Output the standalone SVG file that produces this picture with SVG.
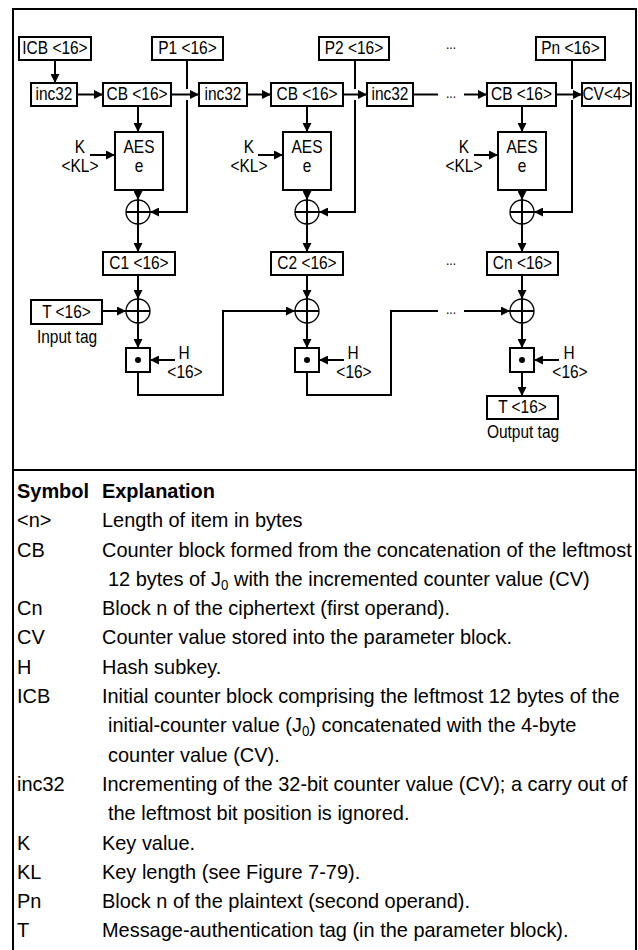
<svg xmlns="http://www.w3.org/2000/svg" width="638" height="950" viewBox="0 0 638 950">
<defs>
<marker id="ah" viewBox="0 0 10 10" refX="10" refY="5" markerWidth="10" markerHeight="9" markerUnits="userSpaceOnUse" orient="auto">
<path d="M0,0 L10,5 L0,10 z" fill="#000"/>
</marker>
</defs>
<style>
.b{fill:#fff;stroke:#000;stroke-width:2}
.l{fill:none;stroke:#000;stroke-width:2}
.a{fill:none;stroke:#000;stroke-width:2;marker-end:url(#ah)}
.x{fill:#fff;stroke:#000;stroke-width:1.3}
.p{stroke:#000;stroke-width:2}
text{font-family:"Liberation Sans",Arial,sans-serif;fill:#000}
.t{font-size:18px;text-anchor:middle;transform-box:fill-box;transform-origin:center;transform:scaleX(.86)}
.tb{font-size:21px;transform-box:fill-box;transform-origin:left center;transform:scaleX(.95)}
.hd{font-size:21px;font-weight:bold;transform-box:fill-box;transform-origin:left center;transform:scaleX(.95)}
.sb{font-size:14px}
</style>
<rect x="0" y="0" width="638" height="950" fill="#fff"/>
<g id="frame">
<path class="l" d="M13,951 V9 H636 V951"/>
<path class="l" d="M13,470 H636"/>
</g>

<g id="connectors">
<path class="a" d="M55,60 V83"/>
<path class="a" d="M77,94.5 H103"/>
<path class="a" d="M171,94.5 H199"/>
<path class="a" d="M247,94.5 H271"/>
<path class="a" d="M343,94.5 H367"/>
<path class="l" d="M413,94.5 H438"/>
<path class="a" d="M464,94.5 H487"/>
<path class="a" d="M556,94.5 H582"/>
<path class="l" d="M187,60 V89"/>
<path class="a" d="M187,100 V212 H150"/>
<path class="l" d="M355,60 V89"/>
<path class="a" d="M355,100 V212 H319"/>
<path class="l" d="M572,60 V89"/>
<path class="a" d="M572,100 V212 H534"/>
<path class="a" d="M138,106 V132"/>
<path class="a" d="M307,106 V132"/>
<path class="a" d="M522,106 V132"/>
<path class="a" d="M90,155 H115"/>
<path class="a" d="M258,155 H283"/>
<path class="a" d="M474,155 H498"/>
<path class="a" d="M138,190 V200"/>
<path class="a" d="M307,190 V200"/>
<path class="a" d="M522,190 V200"/>
<path class="a" d="M138,224 V252"/>
<path class="a" d="M307,224 V252"/>
<path class="a" d="M522,224 V252"/>
<path class="a" d="M138,275 V299"/>
<path class="a" d="M307,275 V299"/>
<path class="a" d="M522,275 V299"/>
<path class="a" d="M102,311 H126"/>
<path class="a" d="M138,323 V348"/>
<path class="a" d="M307,323 V348"/>
<path class="a" d="M522,323 V348"/>
<path class="a" d="M175,360 H150"/>
<path class="a" d="M344,360 H319"/>
<path class="a" d="M559,360 H534"/>
<path class="a" d="M138,372 V395 H223 V311 H295"/>
<path class="l" d="M307,372 V395 H391 V311 H438"/>
<path class="a" d="M464,311 H510"/>
<path class="a" d="M522,372 V396"/>
</g>

<g id="n-icb"><rect class="b" x="19" y="37" width="72" height="23"/><text class="t" x="55" y="54.5">ICB &lt;16&gt;</text></g>
<g id="n-p1"><rect class="b" x="152" y="37" width="71" height="23"/><text class="t" x="187.5" y="54.5">P1 &lt;16&gt;</text></g>
<g id="n-p2"><rect class="b" x="319" y="37" width="70" height="23"/><text class="t" x="354" y="54.5">P2 &lt;16&gt;</text></g>
<g id="n-pn"><rect class="b" x="536" y="37" width="69" height="23"/><text class="t" x="570.5" y="54.5">Pn &lt;16&gt;</text></g>
<g id="dots"><text class="t sb" x="451" y="49">...</text><text class="t sb" x="451" y="98">...</text><text class="t sb" x="451" y="265">...</text><text class="t sb" x="451" y="314">...</text></g>

<g id="n-inc1"><rect class="b" x="31" y="83" width="46" height="23"/><text class="t" x="54" y="100.5">inc32</text></g>
<g id="n-cb1"><rect class="b" x="103" y="83" width="68" height="23"/><text class="t" x="137" y="100.5">CB &lt;16&gt;</text></g>
<g id="n-inc2"><rect class="b" x="199" y="83" width="48" height="23"/><text class="t" x="223" y="100.5">inc32</text></g>
<g id="n-cb2"><rect class="b" x="271" y="83" width="72" height="23"/><text class="t" x="307" y="100.5">CB &lt;16&gt;</text></g>
<g id="n-inc3"><rect class="b" x="367" y="83" width="46" height="23"/><text class="t" x="390" y="100.5">inc32</text></g>
<g id="n-cbn"><rect class="b" x="487" y="83" width="69" height="23"/><text class="t" x="521.5" y="100.5">CB &lt;16&gt;</text></g>
<g id="n-cv"><rect class="b" x="582" y="83" width="49" height="23"/><text class="t" x="606.5" y="100.5">CV&lt;4&gt;</text></g>

<g id="n-aes1"><rect class="b" x="115" y="132" width="48" height="58"/><text class="t" x="139" y="153">AES</text><text class="t" x="139" y="172">e</text></g>
<g id="n-aes2"><rect class="b" x="283" y="132" width="48" height="58"/><text class="t" x="307" y="153">AES</text><text class="t" x="307" y="172">e</text></g>
<g id="n-aesn"><rect class="b" x="498" y="132" width="48" height="58"/><text class="t" x="522" y="153">AES</text><text class="t" x="522" y="172">e</text></g>
<g id="n-k1"><text class="t" x="80" y="153">K</text><text class="t" x="80" y="172">&lt;KL&gt;</text></g>
<g id="n-k2"><text class="t" x="249" y="153">K</text><text class="t" x="249" y="172">&lt;KL&gt;</text></g>
<g id="n-kn"><text class="t" x="464" y="153">K</text><text class="t" x="464" y="172">&lt;KL&gt;</text></g>

<g id="n-xa1"><circle class="x" cx="138" cy="212" r="12"/><path class="p" d="M126,212 H150 M138,200 V224"/></g>
<g id="n-xa2"><circle class="x" cx="307" cy="212" r="12"/><path class="p" d="M295,212 H319 M307,200 V224"/></g>
<g id="n-xan"><circle class="x" cx="522" cy="212" r="12"/><path class="p" d="M510,212 H534 M522,200 V224"/></g>

<g id="n-c1"><rect class="b" x="103" y="252" width="72" height="23"/><text class="t" x="139" y="269.5">C1 &lt;16&gt;</text></g>
<g id="n-c2"><rect class="b" x="271" y="252" width="72" height="23"/><text class="t" x="307" y="269.5">C2 &lt;16&gt;</text></g>
<g id="n-cn"><rect class="b" x="487" y="252" width="71" height="23"/><text class="t" x="522.5" y="269.5">Cn &lt;16&gt;</text></g>

<g id="n-xb1"><circle class="x" cx="138" cy="311" r="12"/><path class="p" d="M126,311 H150 M138,299 V323"/></g>
<g id="n-xb2"><circle class="x" cx="307" cy="311" r="12"/><path class="p" d="M295,311 H319 M307,299 V323"/></g>
<g id="n-xbn"><circle class="x" cx="522" cy="311" r="12"/><path class="p" d="M510,311 H534 M522,299 V323"/></g>

<g id="n-tin"><rect class="b" x="31" y="300" width="71" height="24"/><text class="t" x="66.5" y="318">T &lt;16&gt;</text><text class="t" x="67" y="343">Input tag</text></g>

<g id="n-m1"><rect class="b" x="126" y="348" width="24" height="24"/><circle cx="138" cy="360" r="3"/></g>
<g id="n-m2"><rect class="b" x="295" y="348" width="24" height="24"/><circle cx="307" cy="360" r="3"/></g>
<g id="n-mn"><rect class="b" x="510" y="348" width="24" height="24"/><circle cx="522" cy="360" r="3"/></g>
<g id="n-h1"><text class="t" x="184" y="359">H</text><text class="t" x="185" y="378">&lt;16&gt;</text></g>
<g id="n-h2"><text class="t" x="353" y="359">H</text><text class="t" x="354" y="378">&lt;16&gt;</text></g>
<g id="n-hn"><text class="t" x="569" y="359">H</text><text class="t" x="570" y="378">&lt;16&gt;</text></g>

<g id="n-tout"><rect class="b" x="487" y="396" width="71" height="23"/><text class="t" x="522.5" y="413.5">T &lt;16&gt;</text><text class="t" x="523" y="438">Output tag</text></g>

<g id="table">
<text class="hd" x="17" y="498">Symbol</text><text class="hd" x="102" y="498">Explanation</text>
<text class="tb" x="17" y="527.3">&lt;n&gt;</text><text class="tb" x="102" y="527.3">Length of item in bytes</text>
<text class="tb" x="17" y="556.6">CB</text><text class="tb" x="102" y="556.6">Counter block formed from the concatenation of the leftmost</text>
<text class="tb" x="108" y="585.9">12 bytes of J<tspan class="sb" dy="4">0</tspan><tspan dy="-4"> with the incremented counter value (CV)</tspan></text>
<text class="tb" x="17" y="615.2">Cn</text><text class="tb" x="102" y="615.2">Block n of the ciphertext (first operand).</text>
<text class="tb" x="17" y="644.5">CV</text><text class="tb" x="102" y="644.5">Counter value stored into the parameter block.</text>
<text class="tb" x="17" y="673.8">H</text><text class="tb" x="102" y="673.8">Hash subkey.</text>
<text class="tb" x="17" y="703.1">ICB</text><text class="tb" x="102" y="703.1">Initial counter block comprising the leftmost 12 bytes of the</text>
<text class="tb" x="108" y="732.4">initial-counter value (J<tspan class="sb" dy="4">0</tspan><tspan dy="-4">) concatenated with the 4-byte</tspan></text>
<text class="tb" x="108" y="761.7">counter value (CV).</text>
<text class="tb" x="17" y="791">inc32</text><text class="tb" x="102" y="791">Incrementing of the 32-bit counter value (CV); a carry out of</text>
<text class="tb" x="108" y="820.3">the leftmost bit position is ignored.</text>
<text class="tb" x="17" y="849.6">K</text><text class="tb" x="102" y="849.6">Key value.</text>
<text class="tb" x="17" y="878.9">KL</text><text class="tb" x="102" y="878.9">Key length (see Figure 7-79).</text>
<text class="tb" x="17" y="908.2">Pn</text><text class="tb" x="102" y="908.2">Block n of the plaintext (second operand).</text>
<text class="tb" x="17" y="937.5">T</text><text class="tb" x="102" y="937.5">Message-authentication tag (in the parameter block).</text>
</g>
</svg>
